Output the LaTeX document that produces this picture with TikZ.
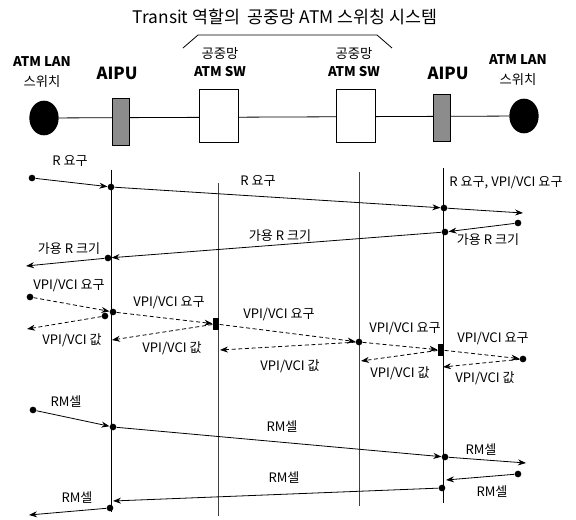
\documentclass[tikz,border=0pt]{standalone}
\usepackage{fontspec}
\setmainfont{Noto Sans CJK KR}
\usetikzlibrary{arrows.meta,shapes.geometric,backgrounds}
\tikzset{
  lan/.style={ellipse, fill=black, inner sep=0pt, minimum width=22pt, minimum height=26pt},
  aipu/.style={draw, line width=0.6pt, fill=black!45, inner sep=0pt, minimum width=12.5pt, minimum height=35pt},
  sw/.style={draw, line width=0.5pt, fill=white, inner sep=0pt, minimum width=29pt, minimum height=39.5pt},
  hdr/.style={align=center, font=\fontsize{10}{15}\selectfont, inner sep=0pt},
  aipulbl/.style={font=\fontsize{12.5}{15}\selectfont\bfseries, inner sep=0pt},
  life/.style={line width=0.6pt},
  swlife/.style={line width=0.4pt, black!75},
  msg/.style={-{Stealth[length=6pt,width=4.5pt]}, line width=0.6pt},
  vmsg/.style={msg, dash pattern=on 3pt off 2pt},
  dot/.style={circle, fill=black, inner sep=0pt, minimum size=5pt},
  blob/.style={fill=black, inner sep=0pt, minimum width=5pt, minimum height=9pt},
  lbl/.style={font=\fontsize{9.8}{11}\selectfont, inner sep=1pt},
}

\begin{document}
\begin{tikzpicture}[x=0.75pt, y=-0.75pt]
  \useasboundingbox (0,0) rectangle (576,520);
  \node[font=\fontsize{13}{15}\selectfont] (title) at (285,17) {Transit 역할의\ \ 공중망 ATM 스위칭 시스템};

  % network along the top
  \node[lan] (lanL) at (44,118) {};
  \node[aipu] (aipuL) at (121,122) {};
  \node[sw] (swL) at (219,116) {};
  \node[sw] (swR) at (356,116) {};
  \node[aipu] (aipuR) at (442,118) {};
  \node[lan] (lanR) at (524,116) {};
  \begin{scope}[on background layer]
    \draw[line width=0.6pt] (lanL) -- (lanR);
  \end{scope}
  \draw[line width=0.6pt] (183,48) -- (198,35) -- (377,35) -- (392,48);

  \node[hdr] (lanLt) at (42,72) {\textbf{ATM LAN}\\스위치};
  \node[aipulbl] (aipuLt) at (117,73) {AIPU};
  \node[hdr, font=\fontsize{10}{13.5}\selectfont] (swLt) at (220,62) {공중망\\\textbf{ATM SW}};
  \node[hdr, font=\fontsize{10}{13.5}\selectfont] (swRt) at (354,62) {공중망\\\textbf{ATM SW}};
  \node[aipulbl] (aipuRt) at (448,73) {AIPU};
  \node[hdr] (lanRt) at (518,70) {\textbf{ATM LAN}\\스위치};

  % lifelines
  \draw[life] (111,170) -- (111,512);
  \draw[swlife] (218,183) -- (218,516);
  \draw[swlife] (359,172) -- (359,506);
  \draw[life] (443,168) -- (443,503);

  % R request / available R
  \node[dot] (r1) at (32,178) {};
  \node[dot] (r2) at (111,187) {};
  \node[dot] (r3) at (444,208) {};
  \coordinate (r4) at (523,213);
  \node[dot] (r5) at (518,223) {};
  \node[dot] (r6) at (445,232) {};
  \node[dot] (r7) at (108,258) {};
  \coordinate (r8) at (26,266);
  \draw[msg] (r1) -- (r2);
  \draw[msg] (r2) -- (r3);
  \draw[msg] (r3) -- (r4);
  \draw[msg] (r5) -- (r6);
  \draw[msg] (r6) -- (r7);
  \draw[msg] (r7) -- (r8);
  \node[lbl] at (70,161) {R 요구};
  \node[lbl] at (258,181) {R 요구};
  \node[lbl] at (506,183) {R 요구, VPI/VCI 요구};
  \node[lbl] at (488,240) {가용 R 크기};
  \node[lbl] at (280,236) {가용 R 크기};
  \node[lbl] at (69,249) {가용 R 크기};

  % VPI/VCI request / value
  \node[dot] (v1) at (30,297) {};
  \node[dot] (v2) at (113,312) {};
  \node[dot] (v3) at (105,316) {};
  \coordinate (v4) at (27,329);
  \node[blob] (v5) at (216,324) {};
  \node[dot] (v6) at (359,342) {};
  \coordinate (v7) at (112,340);
  \coordinate (v8) at (220,350);
  \node[blob] (v9) at (441,350) {};
  \node[dot] (v10) at (523,359) {};
  \coordinate (v11) at (443,367);
  \coordinate (v12) at (361,361);
  \draw[vmsg] (v1) -- (v2);
  \draw[vmsg] (v2) -- (v5);
  \draw[vmsg] (v3) -- (v4);
  \draw[vmsg] (v5) -- (v6);
  \draw[vmsg] (v5) -- (v7);
  \draw[vmsg] (v6) -- (v9);
  \draw[vmsg] (v6) -- (v8);
  \draw[vmsg] (v9) -- (v10);
  \draw[vmsg] (v10) -- (v11);
  \draw[vmsg] (v9) -- (v12);
  \node[lbl] at (69,285) {VPI/VCI 요구};
  \node[lbl] at (169,302) {VPI/VCI 요구};
  \node[lbl] at (72,340) {VPI/VCI 값};
  \node[lbl] at (279,314) {VPI/VCI 요구};
  \node[lbl] at (172,348) {VPI/VCI 값};
  \node[lbl] at (290,366) {VPI/VCI 값};
  \node[lbl] at (405,328) {VPI/VCI 요구};
  \node[lbl] at (493,338) {VPI/VCI 요구};
  \node[lbl] at (485,378) {VPI/VCI 값};
  \node[lbl] at (400,373) {VPI/VCI 값};

  % RM cells
  \node[dot] (m1) at (33,410) {};
  \node[dot] (m2) at (113,427) {};
  \node[dot] (m3) at (445,457) {};
  \coordinate (m4) at (526,463);
  \node[dot] (m5) at (518,474) {};
  \coordinate (m6) at (446,480);
  \node[dot] (m7) at (442,488) {};
  \coordinate (m7e) at (113,501);
  \node[dot] (m8) at (110,508) {};
  \coordinate (m9) at (29,515);
  \draw[msg] (m1) -- (m2);
  \draw[msg] (m2) -- (m3);
  \draw[msg] (m3) -- (m4);
  \draw[msg] (m5) -- (m6);
  \draw[msg] (m7) -- (m7e);
  \draw[msg] (m8) -- (m9);
  \node[lbl] at (66,402) {RM셀};
  \node[lbl] at (282,427) {RM셀};
  \node[lbl] at (481,450) {RM셀};
  \node[lbl] at (492,492) {RM셀};
  \node[lbl] at (284,478) {RM셀};
  \node[lbl] at (77,498) {RM셀};
\end{tikzpicture}
\end{document}
